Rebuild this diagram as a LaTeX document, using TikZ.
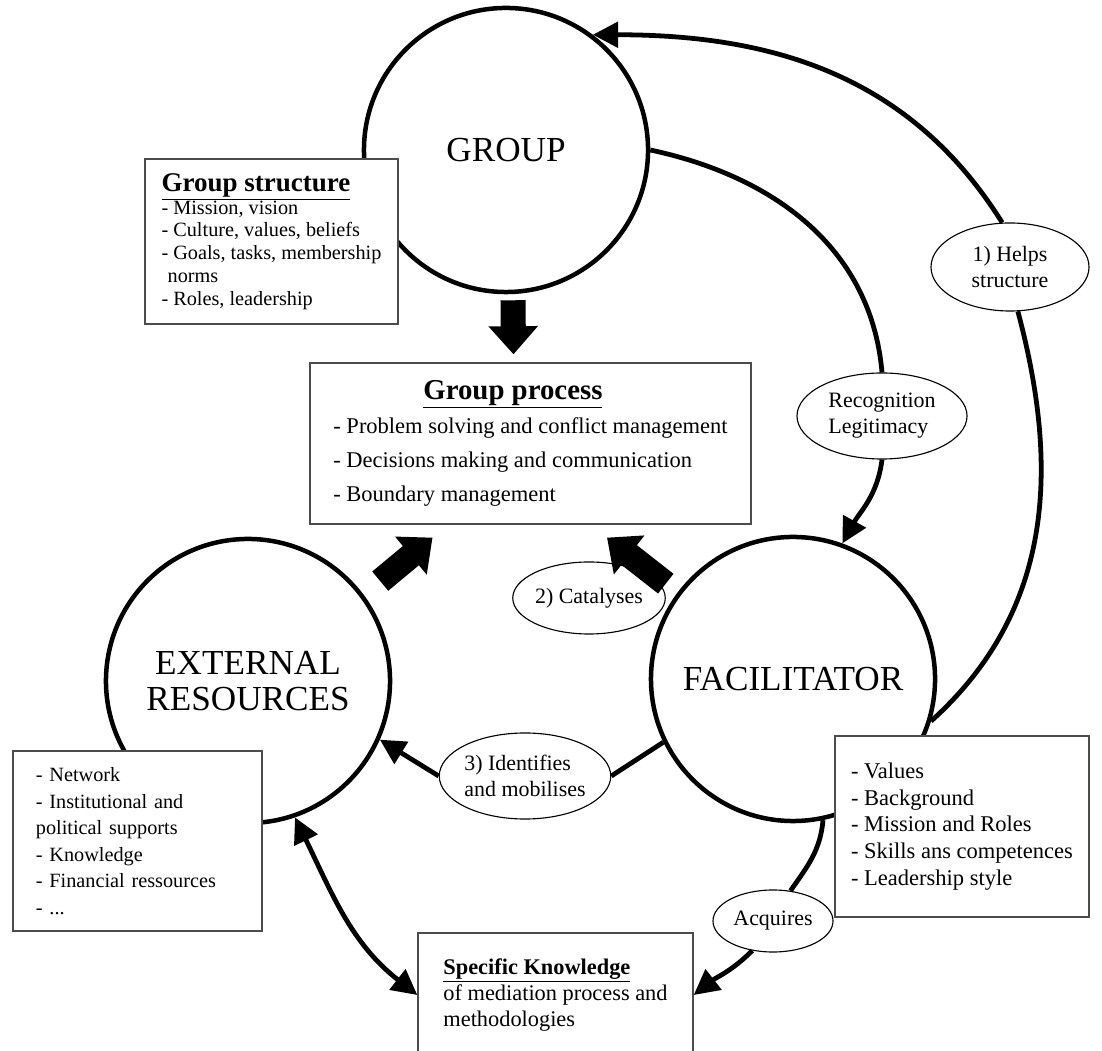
\documentclass[tikz,border=0pt]{standalone}
\usepackage{fontspec}
\setmainfont{Liberation Serif}
\usetikzlibrary{shapes.geometric, arrows.meta, positioning, calc}

\begin{document}
\begin{tikzpicture}[
    x=0.025cm, y=0.025cm,
    actor/.style={circle, draw, line width=3.2pt, minimum size=7.1cm, inner sep=0pt, align=center, font=\fontsize{25}{25}\selectfont},
    infobox/.style={rectangle, draw=black!70, line width=0.9pt, fill=white, align=left},
    role/.style={ellipse, draw, line width=0.8pt, fill=white, inner sep=0pt, align=left, font=\fontsize{15.6}{18.5}\selectfont},
    wire/.style={line width=3.4pt},
    link/.style={wire, -{Triangle[length=18pt, width=18pt]}},
    duallink/.style={wire, {Triangle[length=18pt, width=18pt]}-{Triangle[length=18pt, width=18pt]}},
    bigarrow/.style={line width=17.8pt, -{Triangle[length=20pt, width=34pt]}}
]
\useasboundingbox (0,0) rectangle (1102,1050);

\node[actor] (group) at (506,900) {GROUP};
\node[actor] (ext) at (248,369) {EXTERNAL\\RESOURCES};
\node[actor] (facil) at (793,371) {FACILITATOR};

\node[infobox, minimum width=6.325cm, minimum height=4.125cm, font=\fontsize{14.4}{16.2}\selectfont] (gstruct) at (271.5,808.5)
  {{\fontsize{19.2}{22}\selectfont\underline{\textbf{Group structure}}}\\- Mission, vision\\- Culture, values, beliefs\\- Goals, tasks, membership\\\hspace*{0.3em}norms\\- Roles, leadership};
\node[infobox, minimum width=11.025cm, minimum height=4.025cm, font=\fontsize{16}{24.2}\selectfont] (gproc) at (530.5,606.5)
  {\hspace*{64pt}{\fontsize{20.5}{24.2}\selectfont\underline{\textbf{Group process}}}\\- Problem solving and conflict management\\- Decisions making and communication\\- Boundary management};
\node[infobox, text width=5.075cm, inner xsep=0.575cm, minimum height=4.5cm, font=\fontsize{14.4}{18.9}\selectfont] (extbox) at (137.5,209)
  {- Network\\- Institutional and\\political supports\\- Knowledge\\- Financial ressources\\- ...};
\node[infobox, minimum width=6.35cm, minimum height=4.525cm, font=\fontsize{16}{18.9}\selectfont] (facbox) at (962,223.5)
  {- Values\\- Background\\- Mission and Roles\\- Skills ans competences\\- Leadership style};
\node[infobox, minimum width=6.875cm, minimum height=3.1cm, font=\fontsize{15.9}{18.5}\selectfont] (spec) at (555.5,55)
  {\underline{\textbf{Specific Knowledge}}\\of mediation process and\\methodologies};

\node[role, align=center, minimum width=3.95cm, minimum height=2.2cm] (helps) at (1010,783) {1) Helps\\structure};
\node[role, minimum width=4.25cm, minimum height=2.15cm] (recog) at (882,634) {Recognition\\Legitimacy};
\node[role, minimum width=3.55cm, minimum height=1.8cm] (catal) at (589,452) {2) Catalyses};
\node[role, minimum width=4.25cm, minimum height=2.15cm] (ident) at (525,274) {3) Identifies\\and mobilises};
\node[role, minimum width=3cm, minimum height=1.55cm] (acq) at (773,129) {Acquires};

\draw[wire] (facil.-17.6) to[out=42, in=-75] (helps.-80);
\draw[link] (helps.100) to[out=122, in=0] (group.53);
\draw[wire] (group.east) to[out=-12, in=95] (recog.north);
\draw[link] (recog.south) to[out=-97, in=61] (facil.70);
\draw[wire] (facil.206) -- (ident.east);
\draw[link] (ident.west) -- (ext.-24);
\draw[wire] (facil.-78) to[out=-95, in=55] (acq.60);
\draw[link] (acq.235) to[out=-135, in=38] (spec.east);
\draw[duallink] (ext.-71) to[out=-64, in=142] (spec.west);

\draw[bigarrow] ($(group.south)+(7,-6)$) -- ($(gproc.north)+(-17,8)$);
\draw[bigarrow] ($(ext.37)+(17,13)$) -- ($(gproc.south)+(-98,-13)$);
\draw[bigarrow] ($(facil.143)+(-12,8.5)$) -- ($(gproc.south)+(76.5,-13)$);
\end{tikzpicture}
\end{document}
